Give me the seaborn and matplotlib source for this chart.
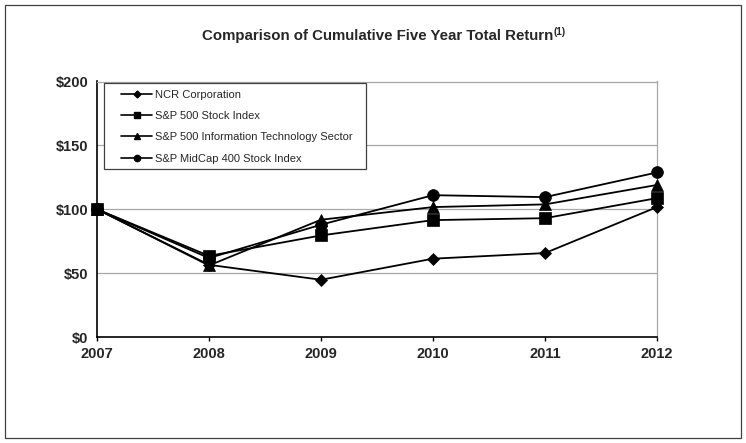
import matplotlib
matplotlib.use("Agg")
import matplotlib.pyplot as plt
import seaborn as sns
import pandas as pd
from matplotlib.patches import Rectangle
from matplotlib.lines import Line2D

years = [2007, 2008, 2009, 2010, 2011, 2012]
series_names = ["NCR Corporation", "S&P 500 Stock Index",
                "S&P 500 Information Technology Sector", "S&P MidCap 400 Stock Index"]
ncr = [100, 56.5, 44.8, 61.3, 65.7, 101.7]
sp500 = [100, 63.5, 79.5, 91.5, 93, 108.7]
sp_it = [100, 56, 91.8, 101.7, 103.8, 119]
midcap = [100, 61.8, 87.9, 111, 109.5, 128.8]
yticks = [0, 50, 100, 150, 200]
ytick_labels = ["$0", "$50", "$100", "$150", "$200"]

sns.set_theme(style="white")
plt.rcParams['font.family'] = ['Liberation Sans', 'DejaVu Sans']

rows = []
for name, vals in zip(series_names, [ncr, sp500, sp_it, midcap]):
    for y, v in zip(years, vals):
        rows.append({"Year": y, "Value": v, "Series": name})
df = pd.DataFrame(rows)

fig = plt.figure(figsize=(7.46, 4.43), dpi=100)
ax = fig.add_axes([97/746, 1 - 337/443, (657-97)/746, (337-81.5)/443])

markers = {series_names[0]: "D", series_names[1]: "s", series_names[2]: "^", series_names[3]: "o"}
msizes = {series_names[0]: 6.5, series_names[1]: 8, series_names[2]: 8.5, series_names[3]: 8.5}
palette = {n: "black" for n in series_names}
sns.lineplot(data=df, x="Year", y="Value", hue="Series", style="Series",
             markers=markers, dashes=False, palette=palette,
             linewidth=1.3, ax=ax, legend=False, markeredgecolor="black",
             markeredgewidth=0.5)
for line, n in zip(ax.get_lines(), series_names):
    line.set_markersize(msizes[n])
    line.set_clip_on(False)
    line.set_zorder(3)

ax.set_xlim(2007, 2012)
ax.set_ylim(0, 200)
ax.set_yticks(yticks)
ax.set_yticklabels(ytick_labels, fontsize=10.5, fontweight="bold")
ax.set_xticks(years)
ax.set_xticklabels([str(y) for y in years], fontsize=10.5, fontweight="bold")
ax.set_xlabel("")
ax.set_ylabel("")
ax.yaxis.grid(True, color="#a8a8a8", linewidth=0.9)
ax.set_axisbelow(True)
for s in ["top", "right"]:
    ax.spines[s].set_color("#a8a8a8")
    ax.spines[s].set_linewidth(0.9)
for s in ["left", "bottom"]:
    ax.spines[s].set_color("black")
    ax.spines[s].set_linewidth(1.2)
ax.tick_params(axis="y", length=0, pad=6)
ax.tick_params(axis="x", length=3, width=1, color="black", direction="out", pad=4, bottom=True)

# legend (frame drawn separately)
handles = [Line2D([0], [0], color="black", marker=markers[n],
                  markersize=3.5 if markers[n] == "D" else 4.5, linewidth=1.2)
           for n in series_names]
leg = ax.legend(handles, series_names, loc="upper left",
                bbox_to_anchor=(121/746, 1 - 89.5/443), bbox_transform=fig.transFigure,
                frameon=False, fontsize=8, borderaxespad=0, borderpad=0,
                handlelength=2.8, labelspacing=1.02, handletextpad=0.3)
leg.set_zorder(6)
frame = Rectangle((103.5/746, 1 - 169/443), (366-103.5)/746, (169-83)/443,
                  transform=fig.transFigure, fill=True, facecolor="white",
                  edgecolor="#404040", linewidth=0.9, zorder=5, clip_on=False)
ax.add_artist(frame)

fig.text(378/746, 1 - 36/443, "Comparison of Cumulative Five Year Total Return",
         ha="center", va="center", fontsize=10.8, fontweight="bold")
fig.text(554/746, 1 - 32/443, "(1)", ha="left", va="center", fontsize=7, fontweight="bold")

fig.patches.append(Rectangle((5/746, 5/443), 736/746, 433/443, transform=fig.transFigure,
                             fill=False, edgecolor="#404040", linewidth=0.9))

fig.savefig("out.png", dpi=100)
